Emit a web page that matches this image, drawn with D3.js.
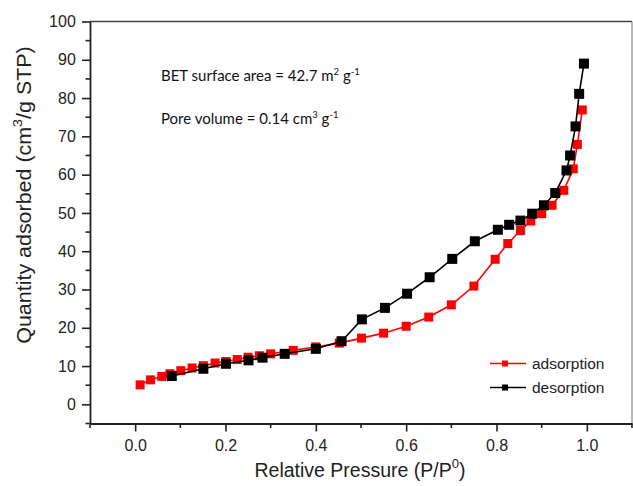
<!DOCTYPE html>
<html>
<head>
<meta charset="utf-8">
<script src="https://cdn.jsdelivr.net/npm/d3@7"></script>
<style>
body{margin:0;background:#fff;}
svg{display:block;}
</style>
</head>
<body>
<svg id="chart" width="633" height="486"></svg>
<script>
// Data
const adsP = [0.011,0.034,0.059,0.077,0.101,0.126,0.151,0.177,0.201,0.226,0.25,0.275,0.30,0.35,0.40,0.452,0.501,0.55,0.60,0.65,0.70,0.75,0.797,0.825,0.853,0.876,0.90,0.923,0.949,0.970,0.979,0.99];
const adsQ = [5.1,6.4,7.3,8.0,8.8,9.5,10.1,10.8,11.2,11.7,12.3,12.7,13.2,14.1,15.0,16.0,17.3,18.6,20.4,22.8,26.0,30.9,37.9,42.0,45.4,47.9,49.8,52.0,55.9,61.5,67.9,76.9];
const desP = [0.9936,0.983,0.975,0.963,0.955,0.930,0.905,0.879,0.853,0.828,0.803,0.752,0.702,0.652,0.602,0.553,0.502,0.457,0.40,0.331,0.282,0.251,0.201,0.151,0.081];
const desQ = [89.0,81.1,72.6,65.0,61.1,55.2,52.0,49.8,48.0,46.9,45.6,42.6,38.0,33.2,28.9,25.2,22.2,16.5,14.5,13.2,12.2,11.5,10.6,9.3,7.4];
const xTicks = [0.0,0.2,0.4,0.6,0.8,1.0];
const yTicks = [0,10,20,30,40,50,60,70,80,90,100];
const seriesNames = ["adsorption","desorption"];
const seriesColors = ["#ff0000","#000000"];

const svg = d3.select("#chart");
const L = 90, R = 632, T = 21.5, B = 423.5;
const x = d3.scaleLinear().domain([-0.1,1.1]).range([L,R]);
const y = d3.scaleLinear().domain([-5,100]).range([B,T]);

const axisColor = "#222";
// frame top & right
svg.append("line").attr("x1",L).attr("x2",R).attr("y1",T).attr("y2",T).attr("stroke","#444").attr("stroke-width",1.5);
svg.append("line").attr("x1",R).attr("x2",R).attr("y1",T).attr("y2",B).attr("stroke","#888").attr("stroke-width",1.2);

// X axis
const xMinor = d3.range(-0.1,1.11,0.2).map(v=>+v.toFixed(2));
const gx = svg.append("g").attr("transform",`translate(0,${B})`);
gx.call(d3.axisBottom(x).tickValues(xTicks).tickFormat(d3.format(".1f")).tickSize(8).tickSizeOuter(0))
  .call(g=>g.select(".domain").attr("stroke",axisColor).attr("stroke-width",1.8))
  .call(g=>g.selectAll(".tick line").attr("stroke",axisColor).attr("stroke-width",1.6))
  .call(g=>g.selectAll(".tick text").attr("font-family","Liberation Sans, Arial, sans-serif").attr("font-size",16).attr("fill","#222").attr("dy","1.05em"));
gx.selectAll(".minor").data(xMinor).enter().append("line")
  .attr("x1",d=>x(d)).attr("x2",d=>x(d)).attr("y1",0).attr("y2",4.5)
  .attr("stroke",axisColor).attr("stroke-width",1.6);

// Y axis
const yMinor = d3.range(-5,100,10);
const gy = svg.append("g").attr("transform",`translate(${L},0)`);
gy.call(d3.axisLeft(y).tickValues(yTicks).tickSize(8).tickSizeOuter(0))
  .call(g=>g.select(".domain").attr("stroke",axisColor).attr("stroke-width",1.8))
  .call(g=>g.selectAll(".tick line").attr("stroke",axisColor).attr("stroke-width",1.6))
  .call(g=>g.selectAll(".tick text").attr("font-family","Liberation Sans, Arial, sans-serif").attr("font-size",16).attr("fill","#222").attr("dx","-0.2em"));
gy.selectAll(".minor").data(yMinor).enter().append("line")
  .attr("x1",0).attr("x2",-4.5).attr("y1",d=>y(d)).attr("y2",d=>y(d))
  .attr("stroke",axisColor).attr("stroke-width",1.6);

// Axis titles
const xt = svg.append("text").attr("x",360).attr("y",477).attr("text-anchor","middle")
  .attr("font-family","Liberation Sans, Arial, sans-serif").attr("font-size",19.5).attr("fill","#222");
xt.append("tspan").text("Relative Pressure (P/P");
xt.append("tspan").attr("font-size",13).attr("dy",-9).text("0");
xt.append("tspan").attr("dy",9).text(")");

const yt = svg.append("text").attr("transform","translate(31,195) rotate(-90) scale(1.1,1)").attr("text-anchor","middle")
  .attr("font-family","Liberation Sans, Arial, sans-serif").attr("font-size",19.5).attr("fill","#222");
yt.append("tspan").text("Quantity adsorbed (cm");
yt.append("tspan").attr("font-size",13).attr("dy",-9).text("3");
yt.append("tspan").attr("dy",9).text("/g STP)");

// Series
const series = [
  {name:seriesNames[0], color:seriesColors[0], pts:adsP.map((p,i)=>[p,adsQ[i]]), size:9},
  {name:seriesNames[1], color:seriesColors[1], pts:desP.map((p,i)=>[p,desQ[i]]), size:10}
];
const line = d3.line().x(d=>x(d[0])).y(d=>y(d[1]));
series.forEach(s=>{
  const g = svg.append("g");
  g.append("path").attr("d",line(s.pts)).attr("fill","none").attr("stroke",s.color).attr("stroke-width",1.6);
  g.selectAll("rect").data(s.pts).enter().append("rect")
    .attr("x",d=>x(d[0])-s.size/2).attr("y",d=>y(d[1])-s.size/2)
    .attr("width",s.size).attr("height",s.size).attr("fill",s.color);
});

// Annotations
const af = "Lato, 'Open Sans', sans-serif";
const a1 = svg.append("text").attr("x",161).attr("y",81).attr("font-family",af).attr("font-size",15).attr("fill","#111");
a1.append("tspan").text("BET surface area = 42.7 m");
a1.append("tspan").attr("font-size",9.5).attr("dy",-6).text("2");
a1.append("tspan").attr("dy",6).text(" g");
a1.append("tspan").attr("font-size",9.5).attr("dy",-6).text("-1");
const a2 = svg.append("text").attr("x",161).attr("y",124).attr("font-family",af).attr("font-size",15).attr("fill","#111");
a2.append("tspan").text("Pore volume = 0.14 cm");
a2.append("tspan").attr("font-size",9.5).attr("dy",-6).text("3");
a2.append("tspan").attr("dy",6).text(" g");
a2.append("tspan").attr("font-size",9.5).attr("dy",-6).text("-1");

// Legend
const leg = svg.append("g");
[0,1].forEach(i=>{
  const ly = 363.5 + i*24;
  leg.append("line").attr("x1",490).attr("x2",526).attr("y1",ly).attr("y2",ly).attr("stroke",seriesColors[i]).attr("stroke-width",1.6);
  leg.append("rect").attr("x",505-3).attr("y",ly-3).attr("width",6).attr("height",6).attr("fill",seriesColors[i]);
  leg.append("text").attr("x",532).attr("y",ly+5.5).attr("font-family","Liberation Sans, Arial, sans-serif").attr("font-size",15.5).attr("fill","#222").text(seriesNames[i]);
});
</script>
</body>
</html>
